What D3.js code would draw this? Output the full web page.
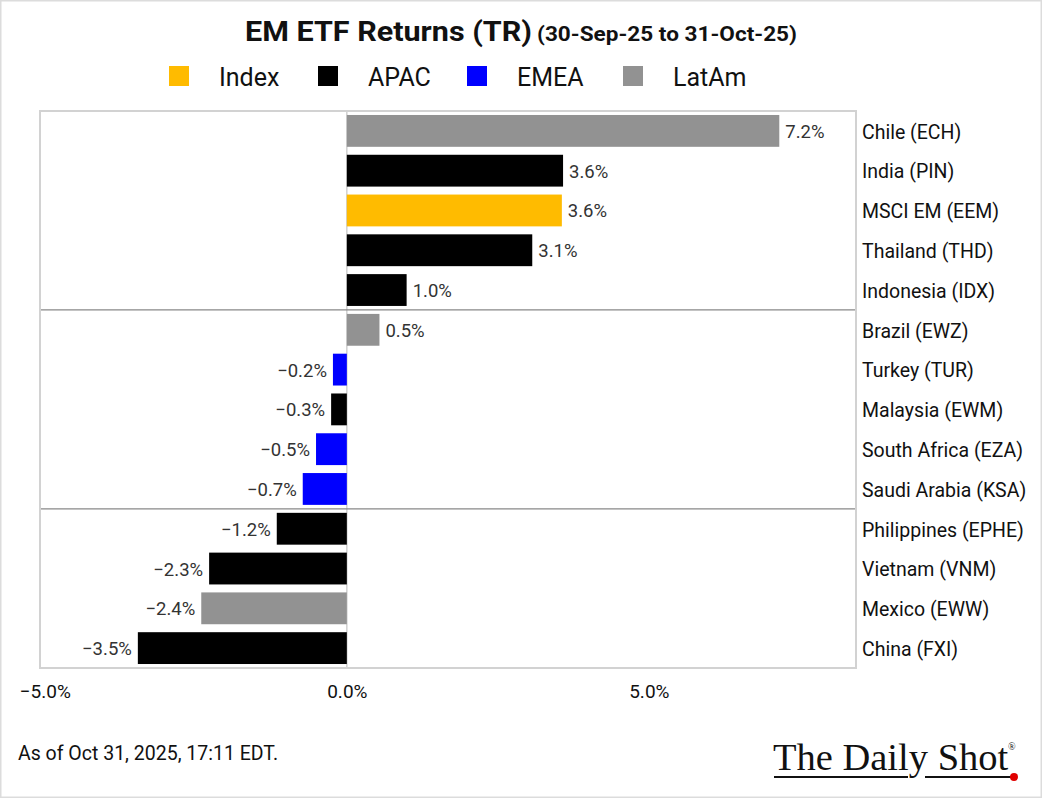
<!DOCTYPE html>
<html><head><meta charset="utf-8">
<script src="https://cdn.jsdelivr.net/npm/d3@7"></script>
<style>
html,body{margin:0;padding:0;background:#fff;}
svg{display:block;font-family:Roboto,"Noto Sans",sans-serif;}
</style></head>
<body>
<svg id="c" width="1042" height="798"></svg>
<script>
const categories = ["Chile (ECH)","India (PIN)","MSCI EM (EEM)","Thailand (THD)","Indonesia (IDX)","Brazil (EWZ)","Turkey (TUR)","Malaysia (EWM)","South Africa (EZA)","Saudi Arabia (KSA)","Philippines (EPHE)","Vietnam (VNM)","Mexico (EWW)","China (FXI)"];
const values = [7.16, 3.58, 3.56, 3.07, 0.99, 0.54, -0.23, -0.26, -0.51, -0.73, -1.16, -2.28, -2.41, -3.46];
const regions = ["LatAm","APAC","Index","APAC","APAC","LatAm","EMEA","APAC","EMEA","EMEA","APAC","APAC","LatAm","APAC"];
const legendNames = ["Index","APAC","EMEA","LatAm"];
const legendColors = ["#ffbb00","#000000","#0000ff","#929292"];
const tickValues = [-5, 0, 5];
const groupBreaks = [5, 10]; // separator lines after these many rows

const svg = d3.select("#c");
const W = 1042, H = 798;
const plot = {l: 40, r: 856, t: 111, b: 668};

// outer frame
svg.append("rect").attr("x",0.5).attr("y",0.5).attr("width",W-1).attr("height",H-1)
  .attr("fill","#fff").attr("stroke","#dcdcdc").attr("stroke-width",2);

const color = d3.scaleOrdinal().domain(legendNames).range(legendColors);
const x = d3.scaleLinear().domain([-5.08, 8.43]).range([plot.l, plot.r]);
const y = d3.scaleBand().domain(categories).range([plot.t, plot.b]).paddingInner(0.2).paddingOuter(0.1);

// title
svg.append("text").attr("x",245).attr("y",41).attr("font-size",27).attr("font-weight","bold")
  .attr("fill","#111").attr("textLength",287).attr("lengthAdjust","spacingAndGlyphs").text("EM ETF Returns (TR)");
svg.append("text").attr("x",537).attr("y",41).attr("font-size",21).attr("font-weight","bold")
  .attr("fill","#111").attr("textLength",260).attr("lengthAdjust","spacingAndGlyphs").text("(30-Sep-25 to 31-Oct-25)");

// legend
const legX = [169, 318, 467, 623];
legendNames.forEach((n,i)=>{
  svg.append("rect").attr("x",legX[i]).attr("y",66).attr("width",20).attr("height",20).attr("fill",color(n));
  svg.append("text").attr("x",legX[i]+50).attr("y",86).attr("font-size",25).attr("fill","#111").text(n);
});

// zero line
svg.append("line").attr("x1",x(0)).attr("x2",x(0)).attr("y1",plot.t).attr("y2",plot.b)
  .attr("stroke","#d0d0d0").attr("stroke-width",1.5);

// bars
svg.append("g").selectAll("rect").data(categories).join("rect")
  .attr("x",(d,i)=>x(Math.min(0,values[i])))
  .attr("y",d=>y(d))
  .attr("width",(d,i)=>Math.abs(x(values[i])-x(0)))
  .attr("height",y.bandwidth())
  .attr("fill",(d,i)=>color(regions[i]));

// value labels
svg.append("g").selectAll("text").data(categories).join("text")
  .attr("x",(d,i)=>values[i]>=0 ? x(values[i])+6 : x(values[i])-6)
  .attr("y",d=>y(d)+y.bandwidth()/2)
  .attr("dy","0.38em")
  .attr("text-anchor",(d,i)=>values[i]>=0?"start":"end")
  .attr("font-size",18.5).attr("fill","#333")
  .text((d,i)=>(values[i]<0?"\u2212":"")+Math.abs(values[i]).toFixed(1)+"%");

// group separators
groupBreaks.forEach(k=>{
  const yy = plot.t + (plot.b-plot.t)*k/categories.length;
  svg.append("line").attr("x1",plot.l).attr("x2",plot.r).attr("y1",yy).attr("y2",yy)
    .attr("stroke","#888").attr("stroke-width",1.2);
});

// plot border
svg.append("rect").attr("x",plot.l).attr("y",plot.t).attr("width",plot.r-plot.l).attr("height",plot.b-plot.t)
  .attr("fill","none").attr("stroke","#d2d2d2").attr("stroke-width",2);

// category labels (right axis)
const yAxis = svg.append("g").attr("transform",`translate(${plot.r},1.5)`)
  .call(d3.axisRight(y).tickSize(0).tickPadding(6));
yAxis.select(".domain").remove();
yAxis.selectAll("text").attr("font-size",19.5).attr("fill","#111").attr("font-family","Roboto,'Noto Sans',sans-serif");

// x axis
const xAxis = svg.append("g").attr("transform",`translate(0,${plot.b})`)
  .call(d3.axisBottom(x).tickValues(tickValues).tickSize(0).tickPadding(17)
    .tickFormat(d=>(d<0?"\u2212":"")+Math.abs(d).toFixed(1)+"%"));
xAxis.select(".domain").remove();
xAxis.selectAll("text").attr("font-size",19).attr("fill","#111").attr("font-family","Roboto,'Noto Sans',sans-serif");

// footer
svg.append("text").attr("x",18).attr("y",760).attr("font-size",19.5).attr("fill","#111").text("As of Oct 31, 2025, 17:11 EDT.");

// logo
const lg = svg.append("g").attr("font-family","'Liberation Serif','DejaVu Serif',serif");
lg.append("text").attr("x",773).attr("y",770).attr("font-size",38.5).attr("fill","#111").text("The Daily Shot");
lg.append("text").attr("x",1008).attr("y",750).attr("font-size",10).attr("fill","#111").text("®");
lg.append("line").attr("x1",774).attr("x2",908).attr("y1",777).attr("y2",777).attr("stroke","#111").attr("stroke-width",2);
lg.append("line").attr("x1",925).attr("x2",1012).attr("y1",777).attr("y2",777).attr("stroke","#111").attr("stroke-width",2);
lg.append("circle").attr("cx",1014).attr("cy",777).attr("r",4).attr("fill","#e00000");
</script>
</body></html>
